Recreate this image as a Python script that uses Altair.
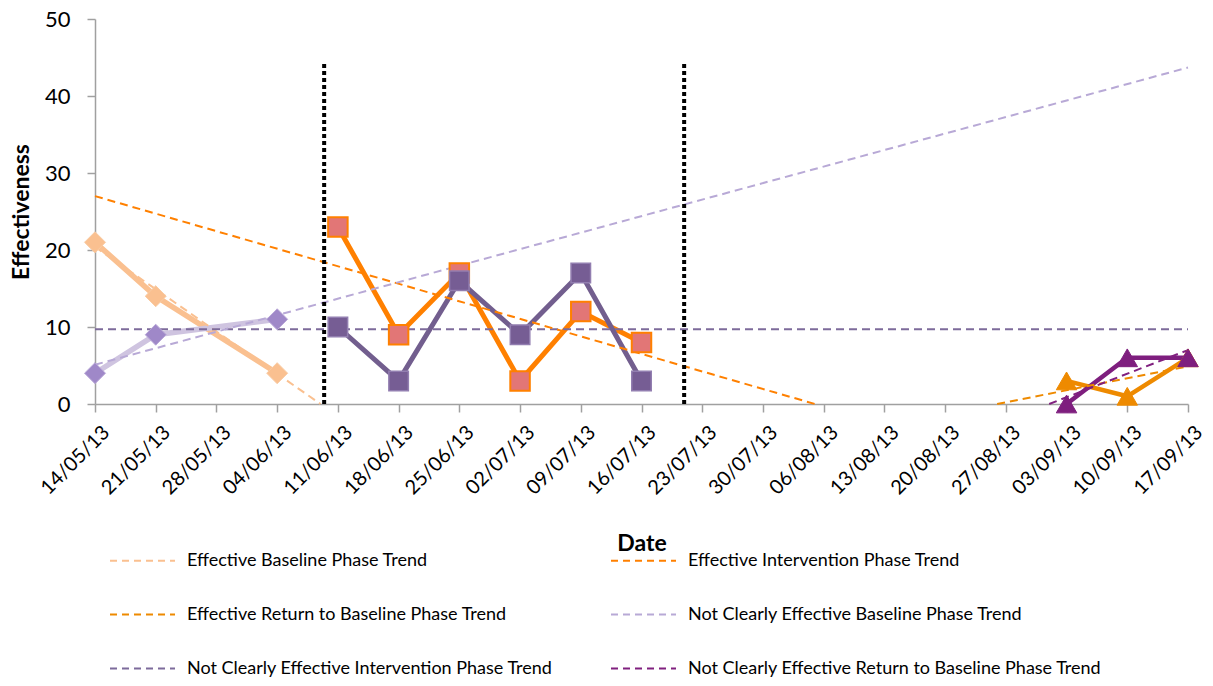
import altair as alt
import pandas as pd

# ---------------- data ----------------
baseline_dates = ["2013-05-14", "2013-05-21", "2013-06-04"]
eff_baseline = [21, 14, 4]
nce_baseline = [4, 9, 11]

intervention_dates = ["2013-06-11", "2013-06-18", "2013-06-25",
                      "2013-07-02", "2013-07-09", "2013-07-16"]
eff_intervention = [23, 9, 17, 3, 12, 8]
nce_intervention = [10, 3, 16, 9, 17, 3]

return_dates = ["2013-09-03", "2013-09-10", "2013-09-17"]
eff_return = [3, 1, 6]
nce_return = [0, 6, 6]

# legend order (column by column, as the legend fills them)
trend_names = [
    "Effective Baseline Phase Trend",
    "Effective Return to Baseline Phase Trend",
    "Not Clearly Effective Intervention Phase Trend",
    "Effective Intervention Phase Trend",
    "Not Clearly Effective Baseline Phase Trend",
    "Not Clearly Effective Return to Baseline Phase Trend",
]
trend_colors = ["#FAC090", "#EE8A00", "#7D6B9B", "#FF8000", "#B8A9D6", "#80207F"]
trend_start_dates = ["2013-05-14", "2013-08-26", "2013-05-14",
                     "2013-05-14", "2013-05-14", "2013-09-01"]
trend_start_values = [20.4, 0.0, 9.7, 27.0, 5.1, 0.0]
trend_end_dates = ["2013-06-09", "2013-09-17", "2013-09-17",
                   "2013-08-05", "2013-09-17", "2013-09-17"]
trend_end_values = [0.0, 4.9, 9.7, 0.0, 43.7, 7.0]

phase_change_dates = ["2013-06-09T10:00:00", "2013-07-20T22:00:00"]
phase_line_top = 44.3

tick_dates = ["2013-05-14", "2013-05-21", "2013-05-28", "2013-06-04",
              "2013-06-11", "2013-06-18", "2013-06-25", "2013-07-02",
              "2013-07-09", "2013-07-16", "2013-07-23", "2013-07-30",
              "2013-08-06", "2013-08-13", "2013-08-20", "2013-08-27",
              "2013-09-03", "2013-09-10", "2013-09-17"]
y_ticks = [0, 10, 20, 30, 40, 50]

FONT = "Lato"


def dt(s):
    y, m, d = s[:10].split("-")
    return alt.DateTime(year=int(y), month=int(m), date=int(d), utc=True)


x_scale = alt.Scale(type="utc", domain=[dt(tick_dates[0]), dt(tick_dates[-1])])
y_scale = alt.Scale(domain=[0, 50])

x_axis = alt.Axis(
    values=[dt(t) for t in tick_dates],
    labelExpr="utcFormat(datum.value, '%d/%m/%y')",
    labelAngle=-45, labelFontSize=20, labelFont=FONT, labelColor="black",
    labelPadding=10, labelOffset=4, tickSize=8, title="Date", titleFont=FONT,
    titleFontSize=23, titleFontWeight="bold", titleColor="black",
    titleBaseline="middle", titleY=139,
    grid=False, domainColor="#A0A0A0", tickColor="#A0A0A0", domainWidth=1.5,
    tickWidth=1.5, labelOverlap=False,
)
y_axis = alt.Axis(
    values=y_ticks, labelFontSize=22, labelFont=FONT, labelColor="black",
    labelPadding=17, tickSize=8, title="Effectiveness", titleFont=FONT,
    titleFontSize=23, titleFontWeight="bold", titleColor="black",
    titleX=-74, titleBaseline="middle",
    grid=False, domainColor="#A0A0A0", tickColor="#A0A0A0", domainWidth=1.5,
    tickWidth=1.5,
)

X = alt.X("date:T", scale=x_scale, axis=x_axis)
Y = alt.Y("value:Q", scale=y_scale, axis=y_axis)


def series_layers(dates, values, line_color, line_width, shape, size, fill, stroke, stroke_w):
    df = pd.DataFrame({"date": dates, "value": values})
    line = alt.Chart(df).mark_line(color=line_color, strokeWidth=line_width, clip=False).encode(x=X, y=Y)
    pts = alt.Chart(df).mark_point(
        shape=shape, size=size, filled=True, fill=fill, stroke=stroke,
        strokeWidth=stroke_w, opacity=1, fillOpacity=1, clip=False,
    ).encode(x=X, y=Y)
    return line, pts


series = [
    (baseline_dates, eff_baseline, "#FAC090", 5.5, "diamond", 440, "#FAC090", "#F9CBA3", 1),
    (baseline_dates, nce_baseline, "#CFC4E0", 5.5, "diamond", 440, "#9F88C8", "#B9A8D8", 1),
    (intervention_dates, eff_intervention, "#FF8000", 5, "square", 380, "#E27676", "#FF8000", 2),
    (intervention_dates, nce_intervention, "#725E8E", 5, "square", 380, "#765D94", "#927EB0", 1.5),
    (return_dates, eff_return, "#EE8A00", 4.5, "triangle-up", 420, "#EE8A00", "#EE8A00", 1),
    (return_dates, nce_return, "#7E1E7E", 4.5, "triangle-up", 420, "#7E1E7E", "#7E1E7E", 1),
]
lines, points = [], []
for s in series:
    l, p = series_layers(*s)
    lines.append(l)
    points.append(p)

trend_rows = []
for n, sd, sv, ed, ev in zip(trend_names, trend_start_dates, trend_start_values,
                             trend_end_dates, trend_end_values):
    trend_rows.append({"trend": n, "date": sd, "value": sv, "order": 0})
    trend_rows.append({"trend": n, "date": ed, "value": ev, "order": 1})
trend_df = pd.DataFrame(trend_rows)

trends = alt.Chart(trend_df).mark_line(strokeWidth=2, strokeDash=[8, 5], clip=False).encode(
    x=X, y=Y, order="order:Q",
    color=alt.Color(
        "trend:N",
        sort=trend_names,
        scale=alt.Scale(domain=trend_names, range=trend_colors),
        legend=alt.Legend(
            orient="none", legendX=14, legendY=508, columns=2, title=None,
            symbolType="stroke", symbolSize=4225, symbolStrokeWidth=2,
            symbolDash=[7, 5], labelFont=FONT, labelFontSize=18, labelColor="black",
            labelOffset=11, labelLimit=500, columnPadding=54, rowPadding=11,
            padding=0,
        ),
    ),
    detail="trend:N",
)

phase_df = pd.DataFrame({"date": phase_change_dates,
                         "y0": [0] * len(phase_change_dates),
                         "y1": [phase_line_top] * len(phase_change_dates)})
dividers = alt.Chart(phase_df).mark_rule(color="black", strokeWidth=4, strokeDash=[4, 3]).encode(
    x=X, y=alt.Y("y0:Q", scale=y_scale, axis=y_axis), y2="y1:Q"
)

chart = alt.layer(*lines, trends, dividers, *points).properties(
    width=1093, height=385,
    autosize=alt.AutoSizeParams(type="none"),
    padding={"left": 87, "top": 11, "right": 17, "bottom": 274},
).configure_view(stroke=None)

chart.save("out.html", embed_options={"renderer": "svg", "actions": False})
